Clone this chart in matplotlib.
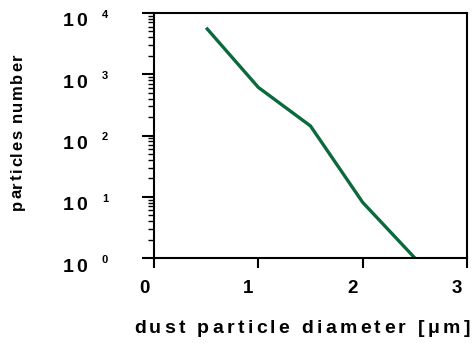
import matplotlib
matplotlib.use("Agg")
import matplotlib.pyplot as plt
from matplotlib.font_manager import FontProperties
from matplotlib.ticker import LogLocator, NullFormatter, FixedLocator
from matplotlib.transforms import IdentityTransform, ScaledTranslation

# particle size distribution
diameter = [0.5, 1.0, 1.5, 2.0, 2.5]          # um
count = [5750, 610, 143, 8.1, 1.0]
x_ticks = [0, 1, 2, 3]
decades = [0, 1, 2, 3, 4]

W, H = 477, 343
FONT = "Liberation Sans"
green = "#0a6a3c"

fig = plt.figure(figsize=(W / 100, H / 100), dpi=100)
ax = fig.add_axes([154 / W, (H - 258) / H, (467 - 154) / W, (258 - 13) / H])

ax.plot(diameter, count, color=green, lw=2.4, solid_capstyle="butt")

ax.set_xlim(0, 3)
ax.set_yscale("log")
ax.set_ylim(1, 1e4)

for s in ax.spines.values():
    s.set_linewidth(1.5)

ax.xaxis.set_major_locator(FixedLocator(x_ticks))
ax.set_xticklabels([str(t) for t in x_ticks], fontfamily=FONT,
                   fontweight="bold", fontsize=13.5)
ax.tick_params(axis="x", direction="out", length=7.2, width=1.5, pad=8.5)
shift = ScaledTranslation(-10 / 100, 0, fig.dpi_scale_trans)
for lab in ax.get_xticklabels():
    lab.set_transform(lab.get_transform() + shift)

ax.yaxis.set_major_locator(FixedLocator([10.0 ** k for k in decades]))
ax.yaxis.set_minor_locator(LogLocator(base=10, subs=range(2, 10)))
ax.yaxis.set_minor_formatter(NullFormatter())
ax.tick_params(axis="y", which="major", direction="out", length=8.6,
               width=1.5, labelleft=False)
ax.tick_params(axis="y", which="minor", direction="out", length=4.3,
               width=1.0)

renderer = fig.canvas.get_renderer()


def tracked_text(x, y, s, size, track, rotation=0):
    """Draw s char by char in pixel coords with extra spacing (px)."""
    fp = FontProperties(family=FONT, weight="bold", size=size)
    for i, ch in enumerate(s):
        if ch == " ":
            continue
        w_all = renderer.get_text_width_height_descent(s[:i + 1], fp, ismath=False)[0]
        w_ch = renderer.get_text_width_height_descent(ch, fp, ismath=False)[0]
        off = w_all - w_ch + i * track
        pos = (x, y + off) if rotation else (x + off, y)
        fig.text(pos[0], pos[1], ch, transform=IdentityTransform(),
                 fontproperties=fp, ha="left", va="baseline",
                 rotation=rotation, rotation_mode="anchor")


# y tick labels as 10^k
for k in decades:
    y_px = ax.transData.transform((0, 10.0 ** k))[1]
    tracked_text(63, y_px - 13.5, "10", 14, 2.5)
    tracked_text(102, y_px - 5, str(k), 8, 0)

tracked_text(134, H - 332.7, "dust particle diameter [\u03bcm]", 14, 3.3)
tracked_text(22, H - 210, "particles number", 12, 1.5, rotation=90)

fig.savefig("out.png", dpi=100)
